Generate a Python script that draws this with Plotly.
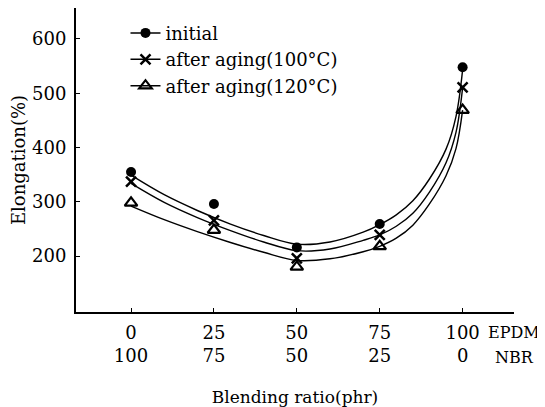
import plotly.graph_objects as go

# ---- data ----
epdm = [0, 25, 50, 75, 100]
nbr = [100, 75, 50, 25, 0]
initial = [355, 296, 216, 259, 548]
aged_100 = [337, 266, 196, 239, 511]
aged_120 = [298, 248, 180, 218, 469]

# fitted curves
curve_x = [0, 10, 20, 30, 40, 50, 60, 70, 75, 80, 85, 90, 95, 98, 100]
curve_initial = [349, 313, 284, 259, 238, 222, 226, 244, 258, 276, 302, 342, 397, 457, 543]
curve_100 = [334, 299, 271, 247, 226, 210, 213, 229, 239, 255, 279, 318, 372, 428, 510]
curve_120 = [292, 267, 245, 225, 207, 192, 195, 208, 218, 233, 257, 296, 348, 398, 469]

y_ticks = [200, 300, 400, 500, 600]
names = ["initial", "after aging(100°C)", "after aging(120°C)"]

FONT = "DejaVu Serif"
fig = go.Figure()

curves = [curve_initial, curve_100, curve_120]
points = [initial, aged_100, aged_120]
markers = [
    dict(symbol="circle", size=10, color="black"),
    dict(symbol="x-thin-open", size=10, color="black", line=dict(width=2.5, color="black")),
    dict(symbol="triangle-up-open", size=11, color="black", line=dict(width=2.2, color="black")),
]

for cy in curves:
    fig.add_trace(go.Scatter(x=curve_x, y=cy, mode="lines", line=dict(color="black", width=1.4, shape="spline", smoothing=1.0),
                             showlegend=False, hoverinfo="skip"))
for pts, mk in zip(points, markers):
    fig.add_trace(go.Scatter(x=epdm, y=pts, mode="markers", marker=mk, showlegend=False))
for nm, mk in zip(names, markers):
    fig.add_trace(go.Scatter(x=[None], y=[None], mode="lines+markers", name=nm, marker=mk,
                             line=dict(color="black", width=1.5)))

tick_text = [f"{a}<br>{b}" for a, b in zip(epdm, nbr)]

# the page body adds an 8px offset, so the figure is 8px smaller
fig.update_layout(
    width=537, height=399,
    margin=dict(l=68, r=31, t=0, b=95),
    paper_bgcolor="white", plot_bgcolor="white",
    font=dict(family=FONT, size=17, color="black"),
    legend=dict(x=0.113, y=0.978, xanchor="left", yanchor="top", bgcolor="rgba(0,0,0,0)",
                font=dict(family=FONT, size=18)),
    xaxis=dict(range=[-16.6, 115.5], tickvals=epdm, ticktext=tick_text, showline=True, linecolor="black",
               linewidth=2, ticks="inside", ticklen=4, tickcolor="black", showgrid=False, zeroline=False,
               tickfont=dict(family=FONT, size=18), automargin=False, ticklabelstandoff=3,
               title=dict(text="Blending ratio(phr)", font=dict(family=FONT, size=17), standoff=30)),
    yaxis=dict(range=[97, 657], tickvals=y_ticks, showline=True, linecolor="black", linewidth=2,
               ticks="inside", ticklen=4, tickcolor="black", showgrid=False, zeroline=False,
               tickfont=dict(family=FONT, size=18), automargin=False, ticklabelstandoff=4,
               title=dict(text="Elongation(%)", font=dict(family=FONT, size=18), standoff=4)),
)

fig.add_annotation(x=100, y=0, xref="x", yref="paper", text="EPDM", showarrow=False,
                   xanchor="left", yanchor="middle", xshift=23, yshift=-20,
                   font=dict(family=FONT, size=16))
fig.add_annotation(x=100, y=0, xref="x", yref="paper", text="NBR", showarrow=False,
                   xanchor="left", yanchor="middle", xshift=30, yshift=-45,
                   font=dict(family=FONT, size=16))

fig.write_html("out.html")
